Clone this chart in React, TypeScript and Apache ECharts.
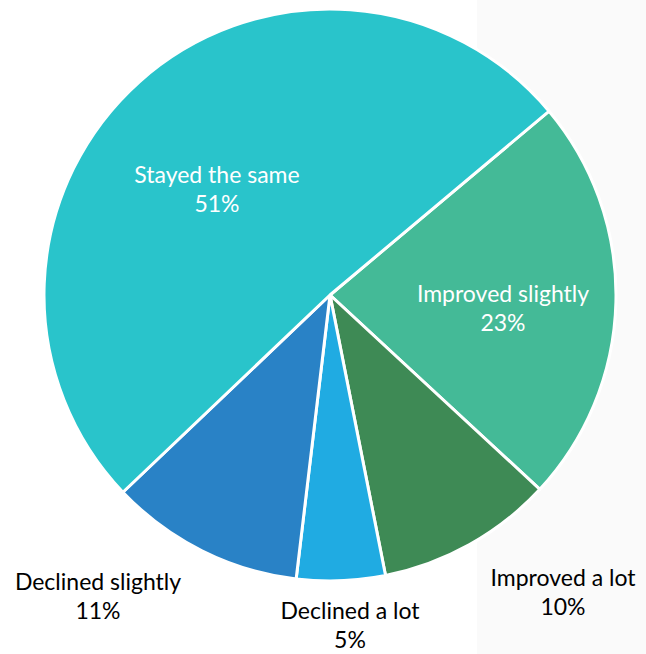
import React, { useEffect, useRef } from "react";
import * as echarts from "echarts";

const categories = ["Improved slightly", "Improved a lot", "Declined a lot", "Declined slightly", "Stayed the same"];
const shares = [23, 10, 5, 11, 51];
const sliceColors = ["#44BA97", "#3E8A55", "#20ABE2", "#2982C6", "#29C4CB"];

// label placement (offsets from pie centre, px) and text colours
const labelOffsets = [
  [173, 12],
  [233, 296],
  [20, 329],
  [-232, 300],
  [-113, -107],
];
const labelColors = ["#ffffff", "#000000", "#000000", "#000000", "#ffffff"];

const CX = 330;
const CY = 295;
const R = 286;

export default function App() {
  const ref = useRef<HTMLDivElement>(null);
  useEffect(() => {
    if (!ref.current) return;
    const chart = echarts.init(ref.current, null, { renderer: "svg" });
    chart.setOption({
      animation: false,
      backgroundColor: "#ffffff",
      graphic: [
        {
          type: "rect",
          z: -10,
          silent: true,
          shape: { x: 477, y: 0, width: 169, height: 654 },
          style: { fill: "#fafafa" },
        },
      ],
      series: [
        {
          type: "pie",
          center: [CX, CY],
          radius: [0, R],
          startAngle: 40,
          clockwise: true,
          avoidLabelOverlap: false,
          itemStyle: { borderColor: "#ffffff", borderWidth: 3 },
          label: {
            show: true,
            position: "inside",
            fontFamily: "Lato",
            fontSize: 23,
            lineHeight: 29,
            align: "center",
            verticalAlign: "middle",
            formatter: (p: any) => `${p.name}\n${p.value}%`,
          },
          labelLine: { show: false },
          labelLayout: (p: any) => {
            const o = labelOffsets[p.dataIndex];
            return { x: CX + o[0], y: CY + o[1], align: "center", verticalAlign: "middle" };
          },
          data: categories.map((name, i) => ({
            name,
            value: shares[i],
            itemStyle: { color: sliceColors[i] },
            label: { color: labelColors[i] },
          })),
        },
      ],
    });
    return () => chart.dispose();
  }, []);
  return (
    <div
      ref={ref}
      style={{ position: "absolute", left: 0, top: 0, width: 646, height: 654 }}
    />
  );
}
